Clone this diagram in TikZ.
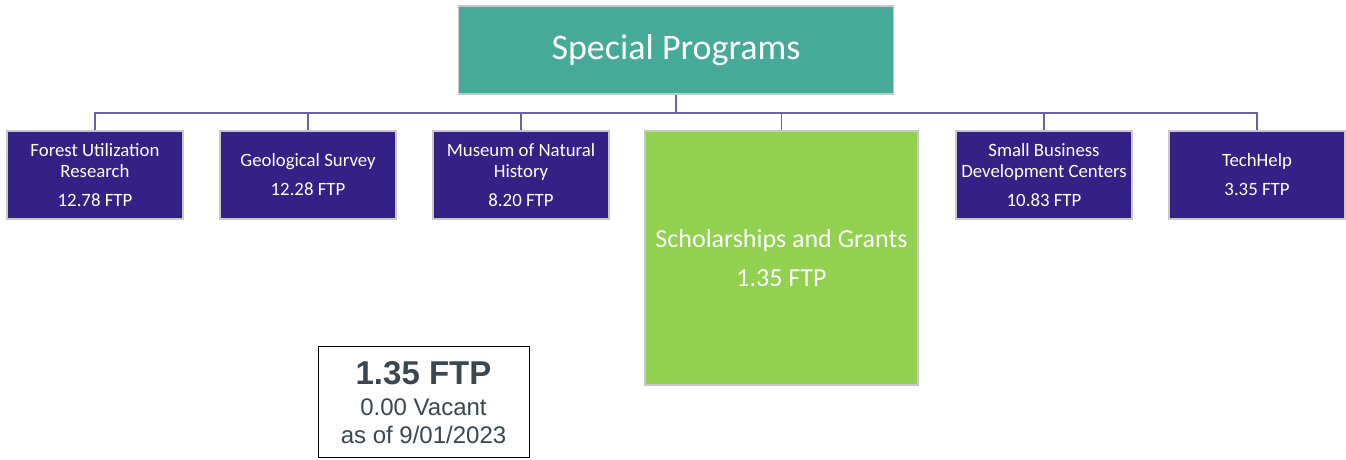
\documentclass[tikz,border=0pt]{standalone}
\usepackage{fontspec}
\setmainfont{Carlito}
\newfontfamily\arialf{Liberation Sans}
\definecolor{teal1}{HTML}{46AA98}
\definecolor{purp}{HTML}{332185}
\definecolor{grn}{HTML}{92D050}
\definecolor{bord}{HTML}{C8C8C8}
\definecolor{conn}{HTML}{6A5FA8}
\definecolor{slate}{HTML}{3A4650}
\begin{document}
\begin{tikzpicture}[x=1pt,y=-1pt,
  boxbase/.style={draw=bord, line width=1.5pt, inner sep=0pt, align=center, text=white},
  topbox/.style={boxbase, fill=teal1, minimum width=435pt, minimum height=88pt, font=\fontsize{36}{42}\selectfont},
  unitbox/.style={boxbase, fill=purp, minimum width=176pt, minimum height=88pt, font=\fontsize{18.8}{21}\selectfont},
  hlbox/.style={boxbase, fill=grn, minimum width=273pt, minimum height=254pt, font=\fontsize{26}{32}\selectfont},
  connline/.style={draw=conn, line width=1.3pt},
  legbox/.style={draw=black, line width=0.9pt, fill=white, minimum width=211pt, minimum height=111pt, inner sep=0pt},
  legtext/.style={text=slate, inner sep=0pt, anchor=base}
]
\useasboundingbox (0,0) rectangle (1346,460);
\node[topbox] (top) at (676,50) {Special Programs};
\node[unitbox] (fr) at (95,175) {Forest Utilization\\Research\\[8pt]12.78 FTP};
\node[unitbox] (ge) at (308,175) {Geological Survey\\[8pt]12.28 FTP};
\node[unitbox] (mu) at (521,175) {Museum of Natural\\History\\[8pt]8.20 FTP};
\node[hlbox] (sc) at (781.5,258) {Scholarships and Grants\\[7pt]1.35 FTP};
\node[unitbox] (sb) at (1044,175) {Small Business\\Development Centers\\[8pt]10.83 FTP};
\node[unitbox] (th) at (1257,175) {TechHelp\\[8pt]3.35 FTP};
\coordinate (bus) at (676,113);
\draw[connline] (top.south) -- (top.south |- bus);
\draw[connline] (fr.north) |- (bus) -| (th.north);
\draw[connline] (ge.north) -- (ge.north |- bus);
\draw[connline] (mu.north) -- (mu.north |- bus);
\draw[connline] (sc.north) -- (sc.north |- bus);
\draw[connline] (sb.north) -- (sb.north |- bus);
\node[legbox] (leg) at (423.5,401.5) {};
\node[legtext, font=\arialf\bfseries\fontsize{33}{38}\selectfont] (l1) at (423.5,384) {1.35 FTP};
\node[legtext, font=\arialf\fontsize{24}{28}\selectfont] (l2) at (423.5,415) {0.00 Vacant};
\node[legtext, font=\arialf\fontsize{24}{28}\selectfont] (l3) at (423.5,443) {as of 9/01/2023};
\end{tikzpicture}
\end{document}
